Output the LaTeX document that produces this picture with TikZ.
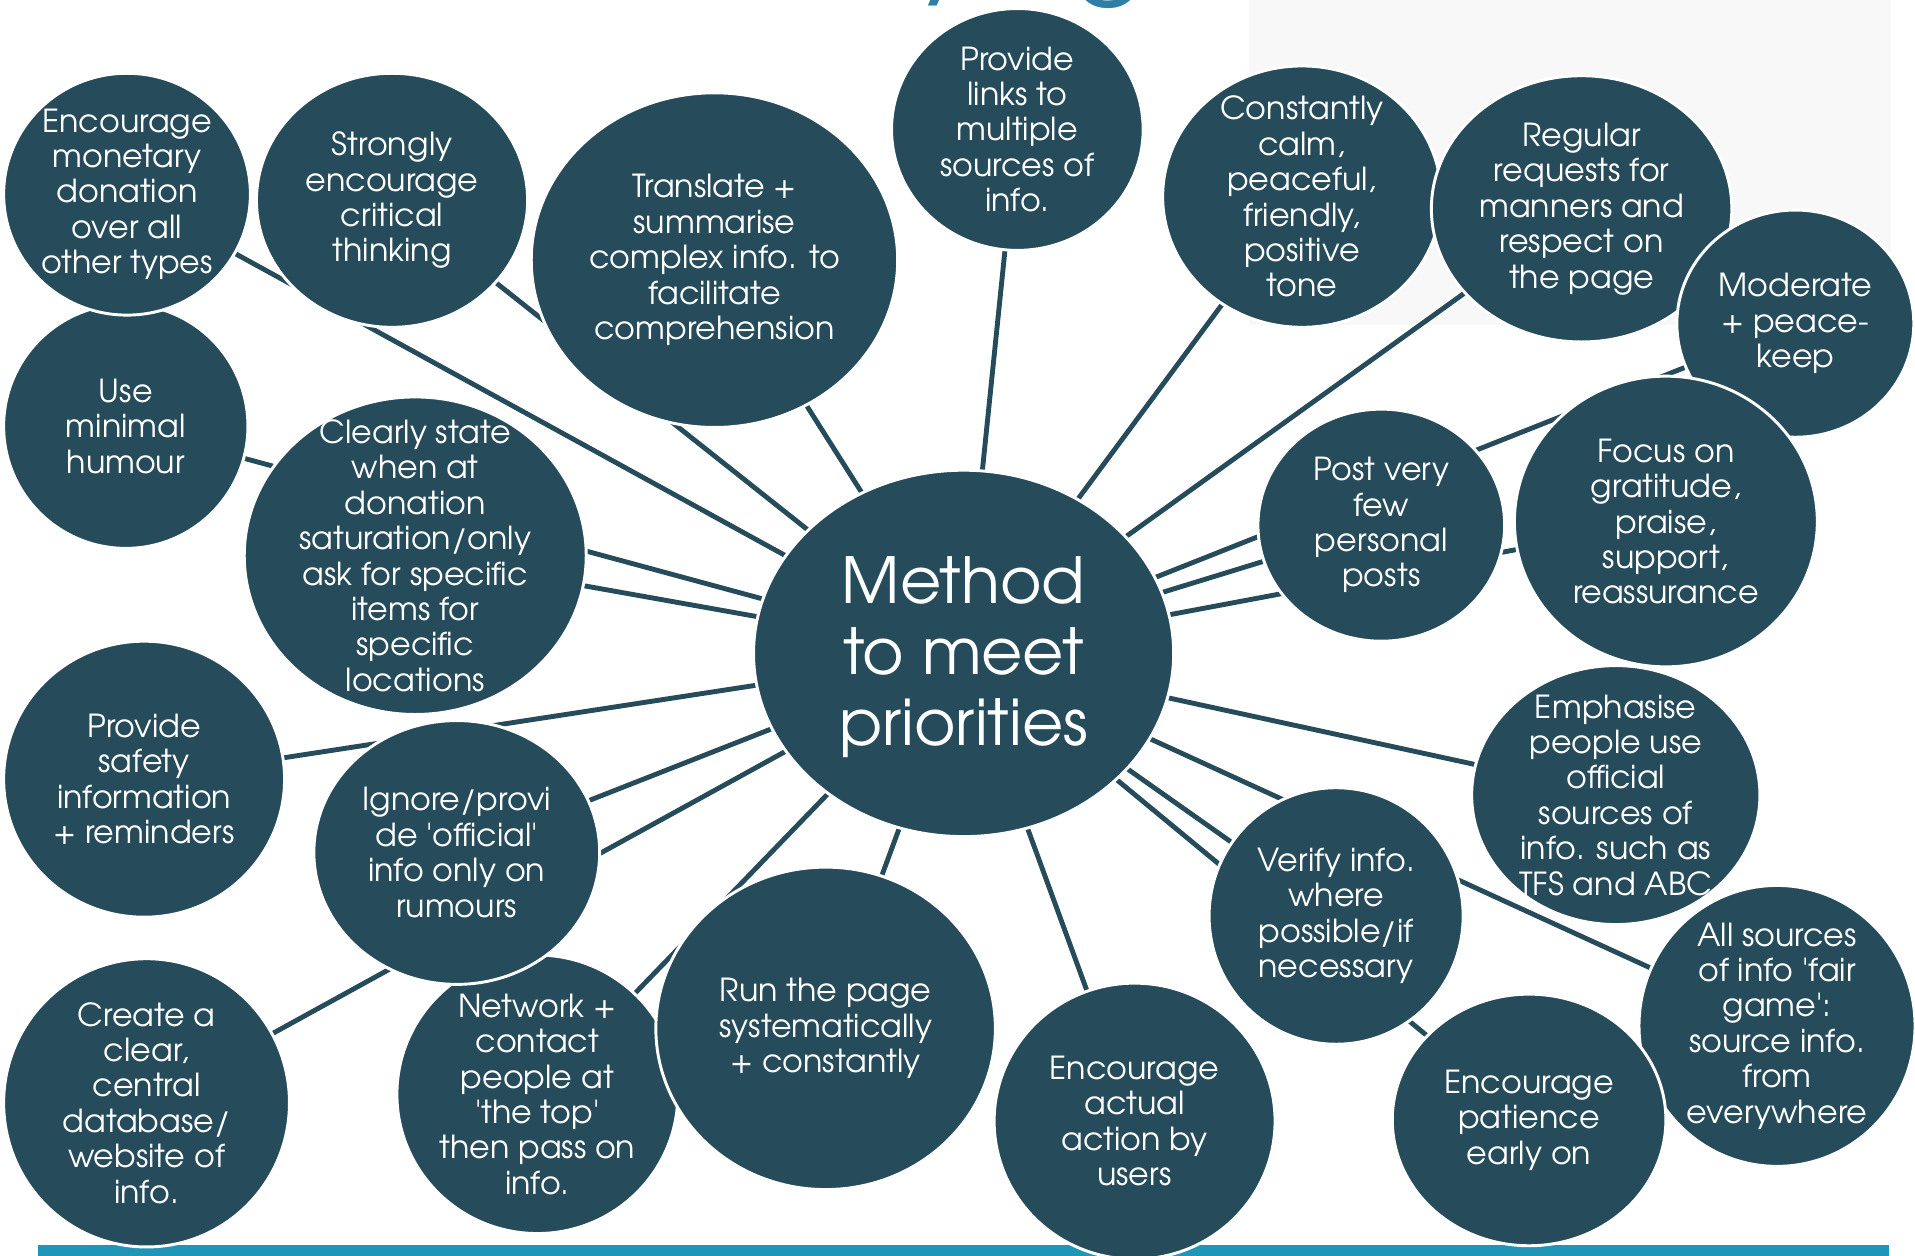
\documentclass[tikz,border=0pt]{standalone}
\usepackage{fontspec}
\setmainfont{TeX Gyre Adventor}
\usetikzlibrary{shapes.geometric}
\definecolor{bubble}{HTML}{264B5A}
\definecolor{band}{HTML}{1F95B7}
\definecolor{heading}{HTML}{2E7EA6}
\definecolor{panel}{HTML}{F8F8F9}
\pgfdeclarelayer{backdrop}
\pgfdeclarelayer{links}
\pgfsetlayers{backdrop,links,main}
% one bubble: name, x, y, width, height, text
\newcommand\bubble[6]{%
  \node[bub, minimum width=#4, minimum height=#5] (#1) at (#2,#3) {};
  \node[txt] (#1t) at (#1) {#6};}
\newcommand\qs{\textquotesingle}
\begin{document}
\begin{tikzpicture}[x=1pt,y=-1pt,
  bub/.style={ellipse, fill=bubble, draw=white, line width=2.4pt, inner sep=0pt},
  txt/.style={text=white, align=center, inner sep=0pt,
    font=\fontsize{26}{29}\selectfont},
  link/.style={draw=bubble, line width=4pt}]
\useasboundingbox (0,0) rectangle (1568,1028);
\clip (0,0) rectangle (1568,1028);

\begin{pgfonlayer}{backdrop}
  \fill[panel] (1023,0) rectangle (1548,266);
  \fill[band] (31,1019) rectangle (1547,1028);
  % lower edge of the page heading
  \node[text=heading, font=\fontsize{92}{96}\selectfont, anchor=base west, inner sep=0pt]
    (hy) at (748,-13) {y};
  \node[text=heading, font=\fontsize{92}{96}\selectfont, anchor=base west, inner sep=0pt]
    (hg) at (876,-13) {g};
\end{pgfonlayer}

\bubble{c8}{103}{349}{200}{200}{Use\\minimal\\humour}
\bubble{c1}{104}{159}{202}{198}{Encourage\\monetary\\donation\\over all\\other types}
\bubble{c2}{321}{164}{222}{208}{Strongly\\encourage\\critical\\thinking}
\bubble{c3}{585}{213}{300}{274}{Translate +\\summarise\\complex info. to\\facilitate\\comprehension}
\bubble{c4}{833}{106}{206}{198}{Provide\\links to\\multiple\\sources of\\info.}
\bubble{c5}{1066}{161}{228}{214}{Constantly\\calm,\\peaceful,\\friendly,\\positive\\tone}
\bubble{c6}{1295}{171}{246}{218}{Regular\\requests for\\manners and\\respect on\\the page}
\bubble{c7}{1470}{265}{194}{186}{Moderate\\+ peace-\\keep}
\bubble{c12}{1364}{427}{248}{238}{Focus on\\gratitude,\\praise,\\support,\\reassurance}
\bubble{c11}{1131}{430}{202}{190}{Post very\\few\\personal\\posts}
\bubble{c9}{340}{455}{280}{260}{Clearly state\\when at\\donation\\saturation/only\\ask for specific\\items for\\specific\\locations}
\bubble{c13}{118}{638}{230}{226}{Provide\\safety\\information\\+ reminders}
\bubble{c17}{120}{903}{234}{236}{Create a\\clear,\\central\\database/\\website of\\info.}
\bubble{c18}{440}{896}{230}{228}{Network +\\contact\\people at\\\qs the top\qs\\then pass on\\info.}
\bubble{c14}{374}{698}{234}{216}{Ignore/provi\\de \qs official\qs\\info only on\\rumours}
\bubble{c19}{676}{842}{278}{264}{Run the page\\systematically\\+ constantly}
\bubble{c20}{929}{918}{230}{226}{Encourage\\actual\\action by\\users}
\bubble{c15}{1323}{651}{236}{212}{Emphasise\\people use\\official\\sources of\\info. such as\\TFS and ABC}
\bubble{c22}{1455}{840}{226}{230}{All sources\\of info \qs fair\\game\qs:\\source info.\\from\\everywhere}
\bubble{c21}{1252}{917}{224}{206}{Encourage\\patience\\early on}
\bubble{c16}{1094}{750}{208}{210}{Verify info.\\where\\possible/if\\necessary}

\node[bub, minimum width=344, minimum height=300] (m) at (789,535) {};
\node[txt, font=\fontsize{52}{58}\selectfont] (mt) at ([yshift=-3pt]m.center) {Method\\to meet\\priorities};

\begin{pgfonlayer}{links}
  \foreach \c in {c1,c2,c3,c4,c5,c6,c7,c8,c9,c11,c12,c13,c14,c15,c16,c17,c18,c19,c20,c21,c22}
    \draw[link] (m.center) -- (\c.center);
\end{pgfonlayer}
\end{tikzpicture}
\end{document}
